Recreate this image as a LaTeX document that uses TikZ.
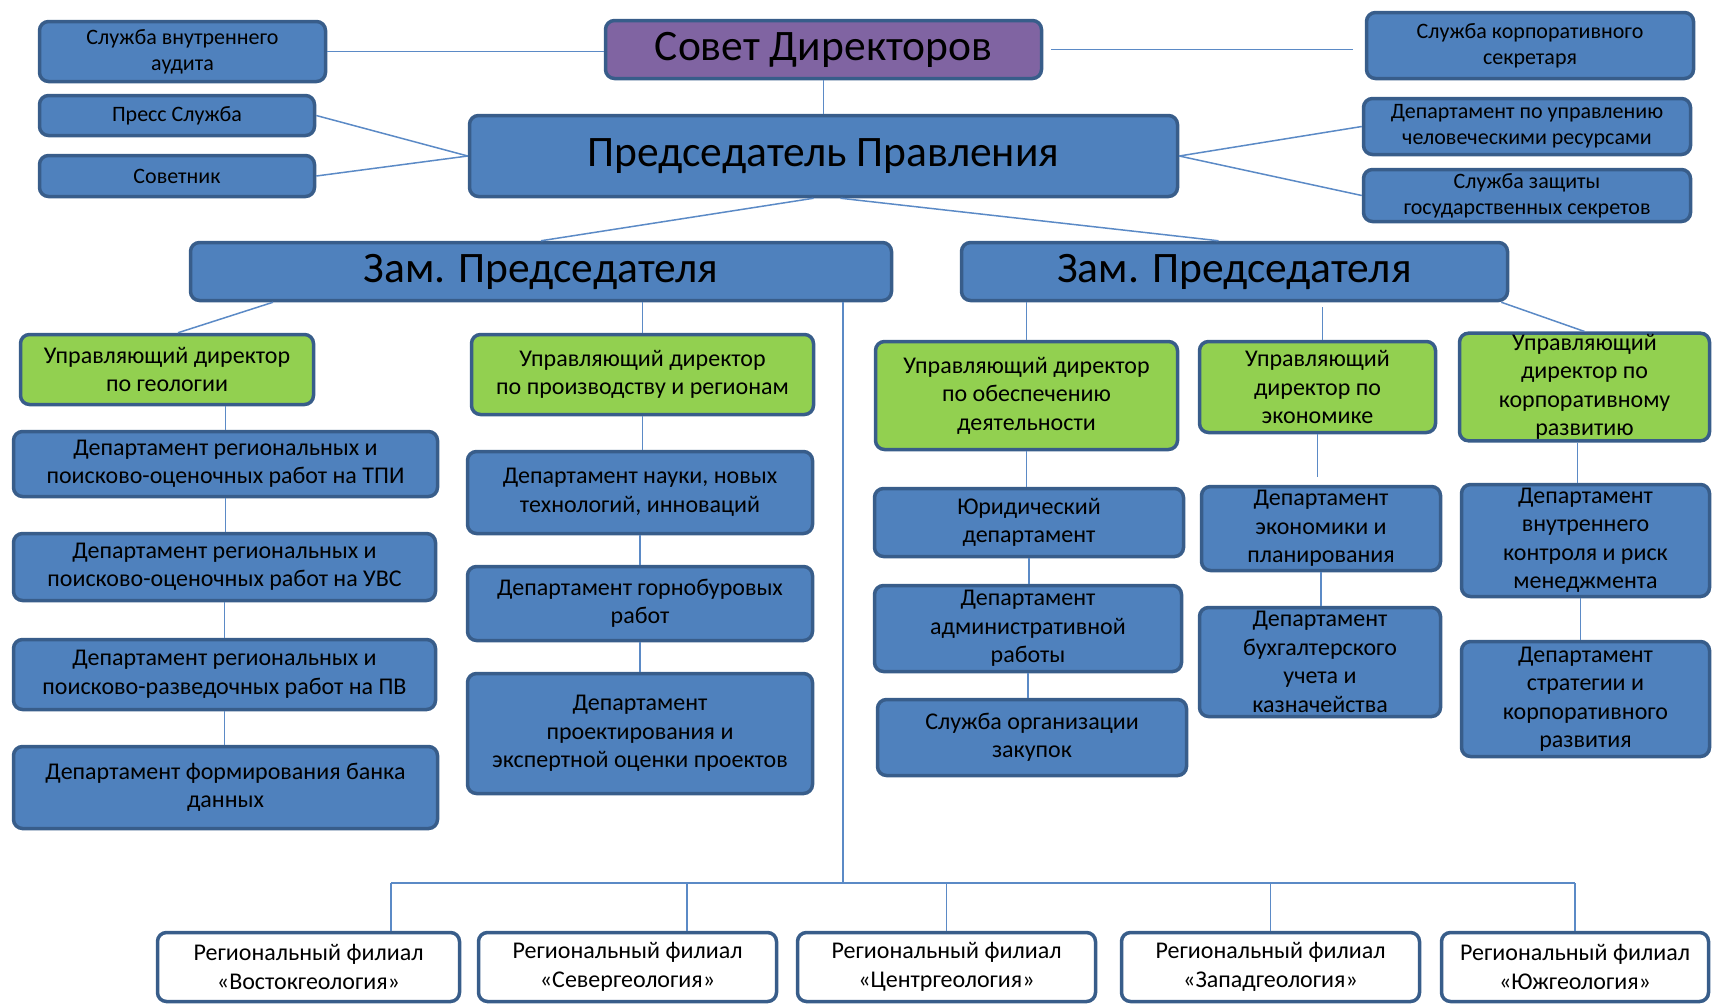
\documentclass[tikz,border=0pt]{standalone}
\usepackage{fontspec}
\setmainfont{Carlito}
\usetikzlibrary{positioning}
\definecolor{bluefill}{HTML}{4F81BD}
\definecolor{bluedge}{HTML}{385D8A}
\definecolor{greenfill}{HTML}{92D050}
\definecolor{violetfill}{HTML}{8064A2}
\definecolor{wire}{HTML}{5B8AC6}

\begin{document}
\begin{tikzpicture}[x=1pt,y=-1pt,
  orgbox/.style={rectangle,rounded corners=9pt,draw=bluedge,line width=3.5pt,inner sep=1pt,align=center,text=black,font=\fontsize{24}{28.5}\selectfont},
  dept/.style={orgbox,fill=bluefill},
  service/.style={dept,font=\fontsize{22}{26}\selectfont},
  top/.style={dept,font=\fontsize{43.5}{50}\selectfont},
  mgr/.style={orgbox,fill=greenfill},
  branch/.style={orgbox,fill=white},
  sz/.style 2 args={minimum width=#1pt,minimum height=#2pt},
  link/.style={draw=wire,line width=1.5pt}]

\useasboundingbox (0,0) rectangle (1713,1005);

% top level
\node [top,fill=violetfill,sz={436}{58}] (sovet) at (823.5,49.5) {Совет Директоров};
\node [top,sz={708}{81}] (pred) at (823.5,156) {Председатель Правления};
\node [top,sz={701}{58}] (zamL) at (541,271.5) {Зам. Председателя};
\node [top,sz={546}{58}] (zamR) at (1234.5,271.5) {Зам. Председателя};

% services
\node [service,sz={286}{60}] (audit) at (182.5,51.5) {Служба внутреннего\\аудита};
\node [service,sz={275}{40}] (press) at (177,115.5) {Пресс Служба};
\node [service,sz={275}{41}] (sovetnik) at (177,176) {Советник};
\node [service,sz={327}{66}] (secr) at (1530,45.5) {Служба корпоративного\\секретаря};
\node [service,sz={327}{56}] (hr) at (1527,126.5) {Департамент по управлению\\человеческими ресурсами};
\node [service,sz={327}{52}] (secrets) at (1527,195.5) {Служба защиты\\государственных секретов};

% managing directors
\node [mgr,sz={293}{70}] (geo) at (167,369.5) {Управляющий директор\\по геологии};
\node [mgr,sz={342}{80}] (prod) at (642.5,374.5) {Управляющий директор\\по производству и регионам};
\node [mgr,sz={302}{108}] (obesp) at (1026.5,395.5) {Управляющий директор\\по обеспечению\\деятельности};
\node [mgr,sz={236}{91}] (econ) at (1317.5,387) {Управляющий\\директор по\\экономике};
\node [mgr,sz={250}{105}] (korp) at (1584.5,387) {Управляющий\\директор по\\корпоративному\\развитию};

% departments
\node [dept,sz={424}{65}] (tpi) at (225.5,464) {Департамент региональных и\\поисково-оценочных работ на ТПИ};
\node [dept,sz={422}{67}] (uvs) at (224.5,567) {Департамент региональных и\\поисково-оценочных работ на УВС};
\node [dept,sz={422}{70}] (pv) at (224.5,674.5) {Департамент региональных и\\поисково-разведочных работ на ПВ};
\node [dept,sz={424}{82}] (bank) at (225.5,787.5) {Департамент формирования банка\\данных};

\node [dept,sz={345}{82}] (nauka) at (640,492.5) {Департамент науки, новых\\технологий, инноваций};
\node [dept,sz={345}{74}] (burov) at (640,603.5) {Департамент горнобуровых\\работ};
\node [dept,sz={345}{120}] (proekt) at (640,733.5) {Департамент\\проектирования и\\экспертной оценки проектов};

\node [dept,sz={309}{68}] (yur) at (1029,522.5) {Юридический\\департамент};
\node [dept,sz={307}{86}] (admin) at (1028,628.5) {Департамент\\административной\\работы};
\node [dept,sz={309}{76}] (zakup) at (1032,737.5) {Служба организации\\закупок};

\node [dept,sz={239}{84}] (plan) at (1321,528.5) {Департамент\\экономики и\\планирования};
\node [dept,sz={241}{109}] (buh) at (1320,662) {Департамент\\бухгалтерского\\учета и\\казначейства};

\node [dept,sz={248}{112}] (kontr) at (1585.5,540.5) {Департамент\\внутреннего\\контроля и риск\\менеджмента};
\node [dept,sz={248}{115}] (strat) at (1585.5,699) {Департамент\\стратегии и\\корпоративного\\развития};

% regional branches
\node [branch,sz={302}{69}] (vost) at (308.5,967) {Региональный филиал\\«Востокгеология»};
\node [branch,sz={298}{69}] (sever) at (627.5,967) {Региональный филиал\\«Севергеология»};
\node [branch,sz={298}{69}] (centr) at (946.5,967) {Региональный филиал\\«Центргеология»};
\node [branch,sz={298}{69}] (zapad) at (1270.5,967) {Региональный филиал\\«Западгеология»};
\node [branch,sz={267}{69}] (yug) at (1575,967) {Региональный филиал\\«Южгеология»};

% connectors
\draw [link] (audit.east) -- (audit.east -| sovet.west);
\draw [link,shorten <=8pt,shorten >=12pt] (sovet.east) -- (sovet.east -| secr.west);
\draw [link] (sovet.south) -- (pred.north);
\draw [link] (press.east) -- (pred.west);
\draw [link] (sovetnik.east) -- (pred.west);
\draw [link] (pred.east) -- (hr.west);
\draw [link] (pred.east) -- (secrets.west);
\draw [link] ([xshift=-10pt]pred.south) -- (zamL.north);
\draw [link] ([xshift=17pt]pred.south) -- ([xshift=-16pt]zamR.north);

\draw [link] ([xshift=-268pt]zamL.south) -- ([xshift=11pt]geo.north);
\draw [link] (prod.north |- zamL.south) -- (prod.north);
\draw [link] (obesp.north |- zamR.south) -- (obesp.north);
\draw [link,shorten <=5pt] ([xshift=5pt]econ.north |- zamR.south) -- ([xshift=5pt]econ.north);
\draw [link] ([xshift=-8pt]zamR.south east) -- (korp.north);

\draw [link] (tpi.north |- geo.south) -- (tpi.north);
\draw [link] (tpi.south) -- (tpi.south |- uvs.north);
\draw [link] (uvs.south) -- (uvs.south |- pv.north);
\draw [link] (pv.south) -- (pv.south |- bank.north);

\draw [link] (prod.south) -- (prod.south |- nauka.north);
\draw [link] (nauka.south) -- (nauka.south |- burov.north);
\draw [link] (burov.south) -- (burov.south |- proekt.north);

\draw [link] (obesp.south) -- (obesp.south |- yur.north);
\draw [link] (yur.south) -- (yur.south |- admin.north);
\draw [link] (admin.south) -- (admin.south |- zakup.north);

\draw [link,shorten >=8pt] (econ.south) -- (econ.south |- plan.north);
\draw [link] (plan.south) -- (plan.south |- buh.north);

\draw [link] ([xshift=-7pt]korp.south) -- ([xshift=-7pt]korp.south |- kontr.north);
\draw [link] ([xshift=-5pt]kontr.south) -- ([xshift=-5pt]kontr.south |- strat.north);

% branch bus
\coordinate (bus) at (843,883);
\coordinate (b1) at (391,883);
\coordinate (b2) at (687,883);
\coordinate (b5) at (yug.north |- bus);
\draw [link] (bus |- zamL.south) -- (bus);
\draw [link] (b1) -- (b5);
\draw [link] (b1) -- (b1 |- vost.north);
\draw [link] (b2) -- (b2 |- sever.north);
\draw [link] (centr.north |- bus) -- (centr.north);
\draw [link] (zapad.north |- bus) -- (zapad.north);
\draw [link] (b5) -- (yug.north);

\end{tikzpicture}
\end{document}
